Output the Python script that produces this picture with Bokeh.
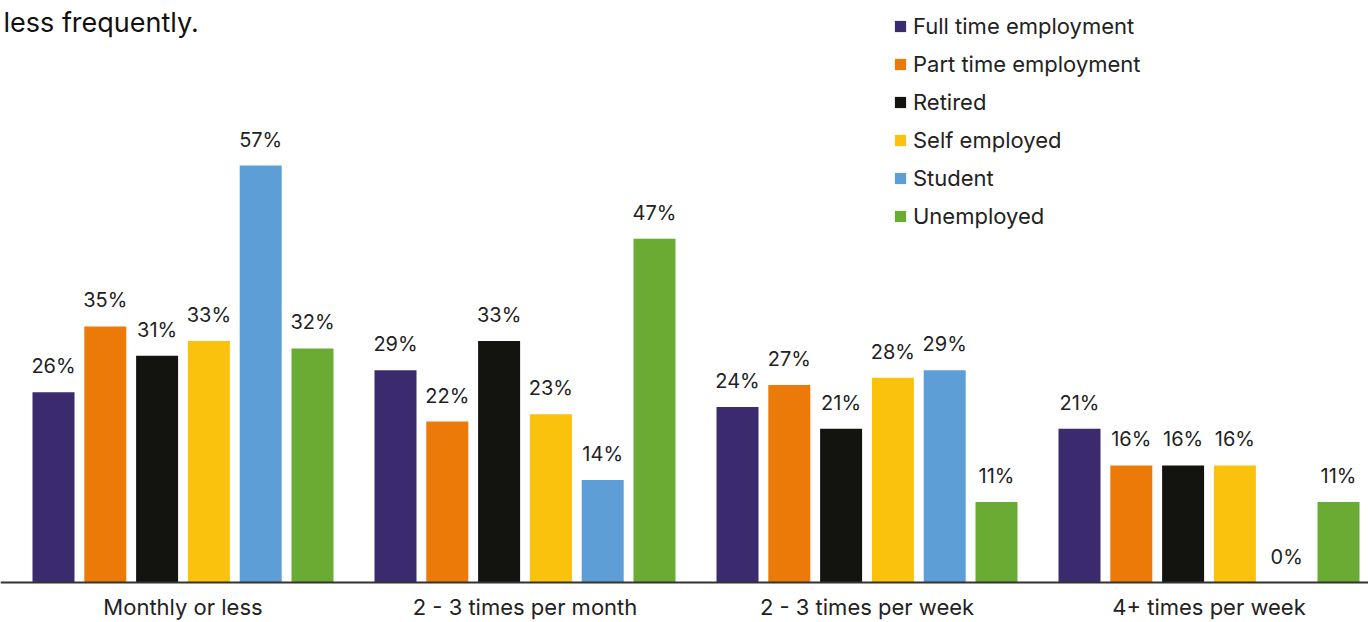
from bokeh.plotting import figure
from bokeh.models import ColumnDataSource, Range1d, Legend, LegendItem, Label, Span
from bokeh.core.properties import value
from bokeh.embed import file_html
from bokeh.resources import INLINE

# ---- data ----
categories = ["Monthly or less", "2 - 3 times per month",
              "2 - 3 times per week", "4+ times per week"]
series = ["Full time employment", "Part time employment", "Retired",
          "Self employed", "Student", "Unemployed"]
full_time = [26, 29, 24, 21]
part_time = [35, 22, 27, 16]
retired = [31, 33, 21, 16]
self_employed = [33, 23, 28, 16]
student = [57, 14, 29, 0]
unemployed = [32, 47, 11, 11]
values = [full_time, part_time, retired, self_employed, student, unemployed]
colors = ["#3b2a6d", "#ec7a08", "#13130f", "#fbc20d", "#5e9ed7", "#6aab34"]
subtitle = "less frequently."

FONT = "Inter"
W, H = 1368, 622
BASE = 582                      # baseline pixel row (from top)
px_per_unit = (BASE - 165) / 57.0
group_px = 342.0
first_center = 182.5

p = figure(width=W, height=H, output_backend="svg", toolbar_location=None,
           x_range=Range1d(-first_center / group_px, (W - first_center) / group_px),
           y_range=Range1d(-(H - BASE) / px_per_unit, BASE / px_per_unit),
           x_axis_location=None, y_axis_location=None, min_border=0)
p.outline_line_color = None
p.xgrid.visible = False
p.ygrid.visible = False
p.background_fill_color = "white"
p.border_fill_color = "white"

bar_w = 42 / group_px
step = 51.8 / group_px
items = []
for k, (name, vals, col) in enumerate(zip(series, values, colors)):
    xs = [i + (k - 2.5) * step for i in range(len(categories))]
    src = ColumnDataSource(dict(x=xs, top=vals, lab=[f"{v}%" for v in vals]))
    r = p.vbar(x="x", top="top", bottom=0, width=bar_w, source=src,
               fill_color=col, line_color=None)
    p.text(x="x", y="top", text="lab", source=src, y_offset=-26,
           text_align="center", text_baseline="middle",
           text_font=value(FONT), text_font_size="20px", text_color="#222222")
    items.append(LegendItem(label=name, renderers=[r]))

# baseline (x axis line)
p.add_layout(Span(location=0, dimension="width", line_color="#333333",
                  line_width=2))

# category labels
cat_src = ColumnDataSource(dict(x=list(range(len(categories))),
                                y=[0] * len(categories), text=categories))
p.text(x="x", y="y", text="text", source=cat_src, y_offset=24,
       text_align="center", text_baseline="middle",
       text_font=value(FONT), text_font_size="22px", text_color="#222222")

legend = Legend(items=items, location=(893, H - 229),
                glyph_width=14, glyph_height=14, label_standoff=6,
                label_text_font=FONT, label_text_font_size="22px",
                label_text_color="#222222", label_height=26, spacing=12,
                padding=0, margin=0, border_line_color=None,
                background_fill_alpha=0)
p.add_layout(legend, "center")

p.add_layout(Label(x=3, y=H - 22, x_units="screen", y_units="screen",
                   text=subtitle, text_font=FONT, text_font_size="27px",
                   text_color="#111111", text_baseline="middle"))

open("out.html", "w").write(file_html(p, INLINE))
